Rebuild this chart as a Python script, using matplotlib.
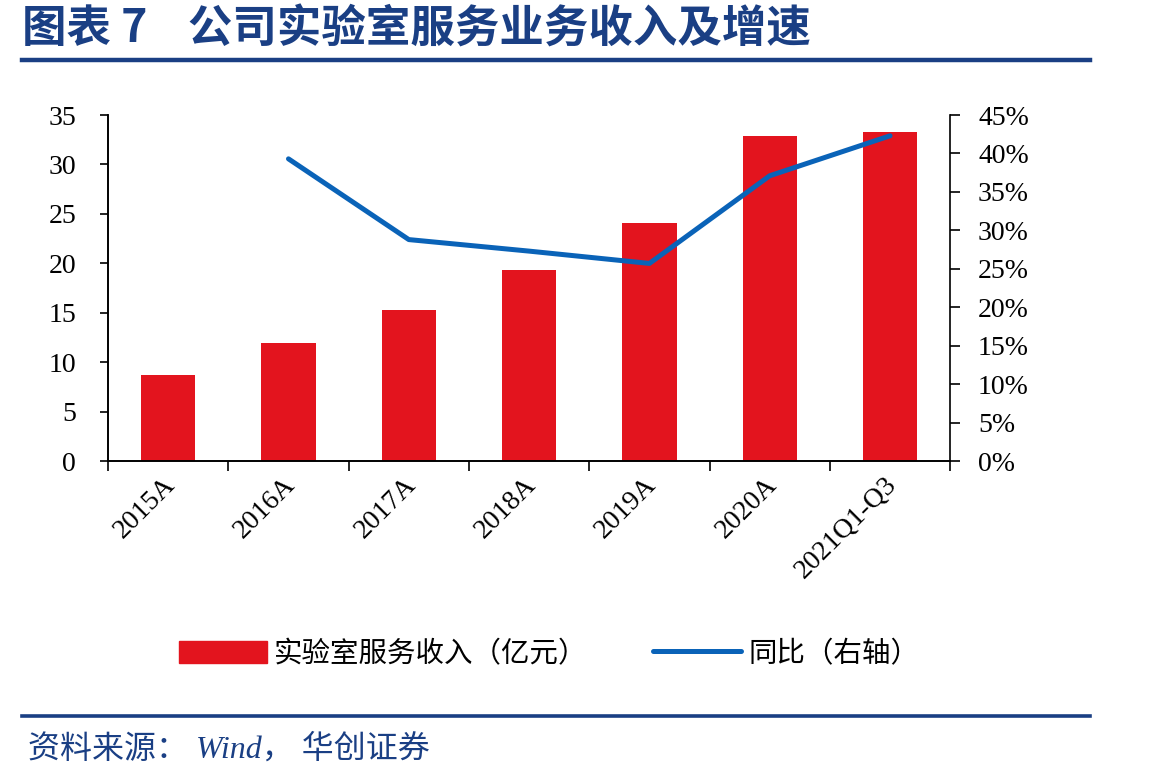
import numpy as np
import matplotlib.pyplot as plt
from matplotlib.lines import Line2D
from matplotlib.ticker import FuncFormatter

categories = ["2015A", "2016A", "2017A", "2018A", "2019A", "2020A", "2021Q1-Q3"]
revenue = [8.7, 11.9, 15.3, 19.3, 24.1, 32.9, 33.3]   # 亿元
growth = [np.nan, 39.3, 28.8, 27.3, 25.7, 37.1, 42.3]  # %

RED = "#E3141E"
BLUE = "#0A63B8"
NAVY = "#1A3F84"
CJK = ["Noto Sans CJK SC", "DejaVu Sans"]
SERIF = "Liberation Serif"

plt.rcParams["font.family"] = CJK

fig = plt.figure(figsize=(11.49, 7.83), dpi=100)
ax = fig.add_axes([0.094, 0.4112, 0.733, 0.4419])
ax2 = ax.twinx()

x = np.arange(len(categories))
ax.bar(x, revenue, width=0.45, color=RED, zorder=2)
ax2.plot(x, growth, color=BLUE, lw=3.6, solid_capstyle="round", zorder=3)

ax.set_xlim(-0.5, len(categories) - 0.5)
ax.set_ylim(0, 35)
ax.set_yticks(np.arange(0, 36, 5))
ax2.set_ylim(0, 45)
ax2.set_yticks(np.arange(0, 46, 5))
ax2.yaxis.set_major_formatter(FuncFormatter(lambda v, p: f"{v:.0f}%"))

# ticks at category boundaries; rotated labels sit on invisible minor ticks,
# nudged right a little like the original's
ax.set_xticks(np.arange(-0.5, len(categories)), labels=[""] * (len(categories) + 1))
ax.set_xticks(x + 0.1, minor=True)
ax.set_xticklabels(categories, minor=True, rotation=45, ha="right",
                   family=SERIF, fontsize=20)
ax.tick_params(axis="x", which="major", direction="out", length=7, width=1.2)
ax.tick_params(axis="x", which="minor", length=0, pad=8)
ax.tick_params(axis="y", direction="out", length=6, width=1.2, labelsize=20, pad=17)
ax2.tick_params(axis="y", direction="out", length=7, width=1.2, labelsize=20, pad=13)
for lab in ax.get_yticklabels() + ax2.get_yticklabels():
    lab.set_family(SERIF)

for a in (ax, ax2):
    a.spines["top"].set_visible(False)
    for s in ("left", "right", "bottom"):
        a.spines[s].set_linewidth(1.2)
ax.spines["right"].set_visible(False)

handles = [plt.Rectangle((0, 0), 1, 1, color=RED),
           Line2D([0], [0], color=BLUE, lw=3.6, solid_capstyle="round")]
fig.legend(handles, ["实验室服务收入（亿元）", "同比（右轴）"],
           loc="center", bbox_to_anchor=(0.478, 0.165), ncol=2, frameon=False,
           fontsize=20.5, handlelength=3.1, handleheight=0.8, handletextpad=0.25,
           columnspacing=2.3)

# title, rules, source
fig.text(0.019, 0.962, "图表 7    公司实验室服务业务收入及增速", fontsize=32,
         fontweight="bold", color=NAVY, va="center", ha="left")
fig.add_artist(Line2D([0.019, 0.949], [0.923, 0.923], color=NAVY, lw=3.2))
fig.add_artist(Line2D([0.019, 0.949], [0.086, 0.086], color=NAVY, lw=2.6))
fig.text(0.024, 0.043, "资料来源： Wind， 华创证券", fontsize=23, color=NAVY,
         style="italic", family=[SERIF, "Noto Sans CJK SC"], va="center", ha="left")

fig.savefig("out.png", dpi=100)
